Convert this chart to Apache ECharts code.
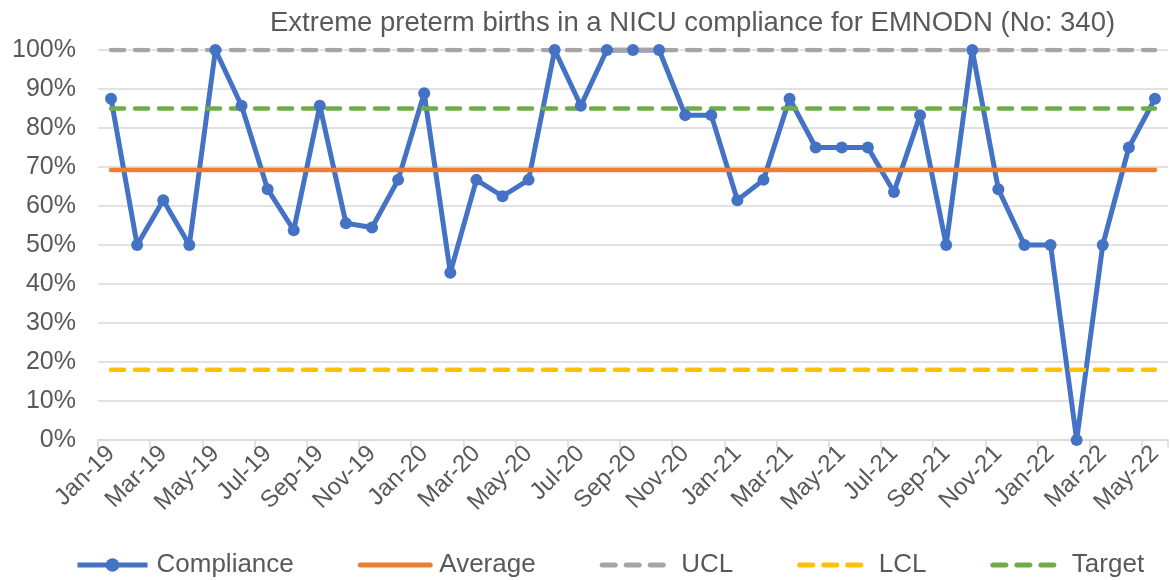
<!DOCTYPE html>
<html>
<head>
<meta charset="utf-8">
<title>Extreme preterm births compliance</title>
<script src="https://cdn.jsdelivr.net/npm/echarts@6/dist/echarts.min.js"></script>
<style>
    html, body { margin: 0; padding: 0; background: #ffffff; }
    #chart_div { width: 1170px; height: 580px; }
</style>
</head>
<body>
<div id="chart_div"></div>
<script>
// ----------- 数据 -----------
var months = [
    'Jan-19', 'Feb-19', 'Mar-19', 'Apr-19', 'May-19', 'Jun-19', 'Jul-19', 'Aug-19', 'Sep-19', 'Oct-19', 'Nov-19', 'Dec-19',
    'Jan-20', 'Feb-20', 'Mar-20', 'Apr-20', 'May-20', 'Jun-20', 'Jul-20', 'Aug-20', 'Sep-20', 'Oct-20', 'Nov-20', 'Dec-20',
    'Jan-21', 'Feb-21', 'Mar-21', 'Apr-21', 'May-21', 'Jun-21', 'Jul-21', 'Aug-21', 'Sep-21', 'Oct-21', 'Nov-21', 'Dec-21',
    'Jan-22', 'Feb-22', 'Mar-22', 'Apr-22', 'May-22'
]
// 合规率 (%)
var compliance = [
    87.5, 50, 61.5, 50, 100, 85.7, 64.3, 53.8, 85.7, 55.6, 54.5, 66.7,
    88.9, 42.9, 66.7, 62.5, 66.7, 100, 85.7, 100, 100, 100, 83.3, 83.3,
    61.5, 66.7, 87.5, 75, 75, 75, 63.6, 83.3, 50, 100, 64.3, 50,
    50, 0, 50, 75, 87.5
]
var average_value = 69.2
var ucl_value = 100
var lcl_value = 18
var target_value = 85

var legend_names = ['Compliance', 'Average', 'UCL', 'LCL', 'Target']
var colorList = ['#4472C4', '#ED7D31', '#A5A5A5', '#FFC000', '#70AD47']

var text_color = '#595959'
var grid_color = '#d9d9d9'
var font_family = '"Liberation Sans", Arial, sans-serif'

// 水平参考线: 每个月同一个值
function flat_line(value) {
    return months.map(function () { return value })
}

var echart_div = echarts.init(document.getElementById('chart_div'))

var dashed_style = function (color) {
    return { color: color, width: 4.5, type: [13, 11], cap: 'round' }
}

// 图例: 参考线只画线, 不画圆点
var legend_data = legend_names.map(function (name, i) {
    if (i == 0) {
        return { name: name }
    }
    return { name: name, itemStyle: { opacity: 0 } }
})

var option = {
    animation: false,
    textStyle: { fontFamily: font_family },
    title: {
        text: 'Extreme preterm births in a NICU compliance for EMNODN (No: 340)',
        left: 265,
        top: 4,
        textStyle: { color: text_color, fontSize: 27.5, fontWeight: 'normal', fontFamily: font_family }
    },
    legend: {
        data: legend_data,
        left: 70,
        top: 547,
        itemWidth: 70,
        itemHeight: 17,
        itemGap: 64,
        lineStyle: { width: 5 },
        textStyle: { color: text_color, fontSize: 26, fontFamily: font_family, padding: [0, 0, 0, 4] }
    },
    grid: {
        left: 98,
        right: 2,
        top: 50,
        bottom: 140,
        containLabel: false
    },
    xAxis: {
        type: 'category',
        data: months,
        boundaryGap: true,
        axisLine: { lineStyle: { color: grid_color, width: 1.5 } },
        axisTick: { show: true, interval: 1, length: 8, lineStyle: { color: grid_color, width: 1.5 } },
        axisLabel: {
            interval: 1,
            rotate: 45,
            margin: 10,
            color: text_color,
            fontSize: 24,
            fontFamily: font_family
        }
    },
    yAxis: {
        type: 'value',
        min: 0,
        max: 100,
        interval: 10,
        axisLine: { show: false },
        axisTick: { show: false },
        axisLabel: {
            formatter: '{value}%',
            color: text_color,
            fontSize: 25,
            margin: 22,
            fontFamily: font_family
        },
        splitLine: { lineStyle: { color: grid_color, width: 1.5 } }
    },
    series: [
        {
            name: 'Compliance',
            type: 'line',
            data: compliance,
            symbol: 'circle',
            symbolSize: 12,
            itemStyle: { color: colorList[0] },
            lineStyle: { color: colorList[0], width: 5 }
        },
        {
            name: 'Average',
            type: 'line',
            data: flat_line(average_value),
            symbol: 'none',
            itemStyle: { color: colorList[1] },
            lineStyle: { color: colorList[1], width: 4.5, cap: 'round' }
        },
        {
            name: 'UCL',
            type: 'line',
            data: flat_line(ucl_value),
            symbol: 'none',
            itemStyle: { color: colorList[2] },
            lineStyle: dashed_style(colorList[2])
        },
        {
            name: 'LCL',
            type: 'line',
            data: flat_line(lcl_value),
            symbol: 'none',
            itemStyle: { color: colorList[3] },
            lineStyle: dashed_style(colorList[3])
        },
        {
            name: 'Target',
            type: 'line',
            data: flat_line(target_value),
            symbol: 'none',
            itemStyle: { color: colorList[4] },
            lineStyle: dashed_style(colorList[4])
        }
    ]
}

echart_div.setOption(option)
</script>
</body>
</html>
